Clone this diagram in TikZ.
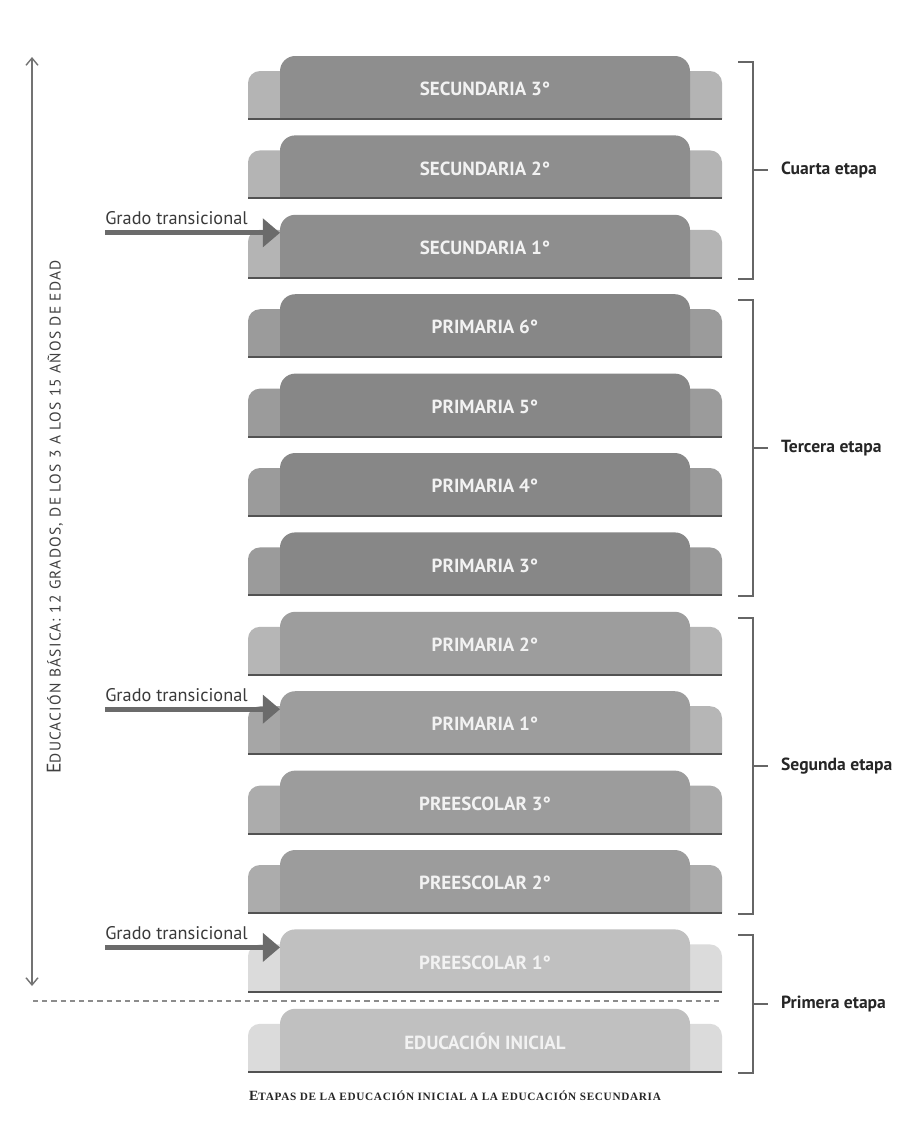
\documentclass[tikz,border=0pt]{standalone}
\usepackage{fontspec}
\setmainfont{PT Sans}
\newfontfamily\capfont{Liberation Serif}
\usetikzlibrary{arrows.meta}

\definecolor{secmain}{HTML}{8E8E8E}
\definecolor{sectab}{HTML}{B4B4B4}
\definecolor{primain}{HTML}{878787}
\definecolor{pritab}{HTML}{9B9B9B}
\definecolor{segmain}{HTML}{9D9D9D}
\definecolor{segtab}{HTML}{B6B6B6}
\definecolor{segdark}{HTML}{A6A6A6}
\definecolor{premain}{HTML}{9C9C9C}
\definecolor{pretab}{HTML}{ACACAC}
\definecolor{inimain}{HTML}{C0C0C0}
\definecolor{initab}{HTML}{DBDBDB}
\definecolor{inktxt}{HTML}{3A3A3A}

\tikzset{
  gradelbl/.style={text=white!95!black, font=\bfseries\fontsize{13.5}{15}\selectfont},
  baseln/.style={draw=black!68, line width=0.05cm},
  transarrow/.style={draw=black!58, line width=0.13cm, -{Triangle[length=0.43cm,width=0.7cm]}},
  translbl/.style={text=inktxt, font=\fontsize{13}{15}\selectfont, anchor=base west, inner sep=0pt},
  bracketln/.style={draw=black!60, line width=0.05cm},
  etapalbl/.style={text=black!85, font=\bfseries\fontsize{12.5}{15}\selectfont, anchor=west, inner xsep=0.32cm, inner ysep=0pt},
  edarrow/.style={draw=black!55, line width=0.035cm, {Straight Barb[length=0.18cm,width=0.3cm]}-{Straight Barb[length=0.18cm,width=0.3cm]}},
  edlbl/.style={text=black!75, font=\fontsize{11}{13}\selectfont\addfontfeature{LetterSpace=8}, inner sep=0pt},
  dashln/.style={draw=black!45, line width=0.035cm, dash pattern=on 0.13cm off 0.1cm},
  captionlbl/.style={text=black!85, font=\capfont\bfseries\fontsize{8}{10}\selectfont\addfontfeature{LetterSpace=6}, inner sep=0pt},
}

\begin{document}
\begin{tikzpicture}[x=0.025cm,y=-0.025cm]
    \useasboundingbox[fill=white] (0,0) rectangle (900,1125);

    % grades, from the top down
    \foreach \nm/\lbl/\i/\mc/\lt/\rt in {
        sec3/SECUNDARIA 3°/0/secmain/sectab/sectab,
        sec2/SECUNDARIA 2°/1/secmain/sectab/sectab,
        sec1/SECUNDARIA 1°/2/secmain/sectab/sectab,
        pri6/PRIMARIA 6°/3/primain/pritab/pritab,
        pri5/PRIMARIA 5°/4/primain/pritab/pritab,
        pri4/PRIMARIA 4°/5/primain/pritab/pritab,
        pri3/PRIMARIA 3°/6/primain/pritab/pritab,
        pri2/PRIMARIA 2°/7/segmain/segtab/segtab,
        pri1/PRIMARIA 1°/8/segmain/segdark/segtab,
        pre3/PREESCOLAR 3°/9/premain/pretab/pretab,
        pre2/PREESCOLAR 2°/10/premain/pretab/pretab,
        pre1/PREESCOLAR 1°/11/inimain/initab/initab,
        ini/EDUCACIÓN INICIAL/12/inimain/initab/initab}{
        \pgfmathsetmacro{\b}{119+79.4*\i}
        \fill[\lt, rounded corners=0.3cm] (248,\b) -- (248,\b-48) -- (300,\b-48) -- (300,\b);
        \fill[\rt, rounded corners=0.3cm] (670,\b) -- (670,\b-48) -- (722,\b-48) -- (722,\b);
        \fill[\mc, rounded corners=0.38cm] (280,\b) -- (280,\b-63) -- (690,\b-63) -- (690,\b);
        \draw[baseln] (248,\b) -- (722,\b);
        \node[gradelbl] (\nm) at (485,\b-30) {\lbl};
        \coordinate (\nm-w) at (280,\b-45);
    }

    % grado transicional
    \foreach \tg/\dst/\i in {gtsec/sec1/2, gtpri/pri1/8, gtpre/pre1/11}{
        \pgfmathsetmacro{\b}{119+79.4*\i}
        \node[translbl] (\tg) at (105,\b-53) {Grado transicional};
        \coordinate (\tg-s) at (105,\b-45);
        \draw[transarrow] (\tg-s) -- (\dst-w);
    }

    % etapas
    \foreach \nm/\lbl/\ia/\ib in {cuarta/Cuarta etapa/0/2, tercera/Tercera etapa/3/6,
        segunda/Segunda etapa/7/10, primera/Primera etapa/11/12}{
        \pgfmathsetmacro{\ya}{119+79.4*\ia-57}
        \pgfmathsetmacro{\yb}{119+79.4*\ib+1}
        \pgfmathsetmacro{\ym}{(\ya+\yb)/2}
        \draw[bracketln] (738,\ya) -- (753,\ya) -- (753,\yb) -- (738,\yb);
        \coordinate (\nm-m) at (753,\ym);
        \node[etapalbl] (\nm) at (768,\ym) {\lbl};
        \draw[bracketln] (\nm-m) -- (\nm.west);
    }

    % educacion basica
    \coordinate (edtop) at (32,57);
    \coordinate (edbot) at (32,986);
    \draw[edarrow] (edtop) -- (edbot);
    \node[edlbl, rotate=90] (edtxt) at (55,517)
        {{\fontsize{14}{16}\selectfont E}DUCACIÓN BÁSICA: 12 GRADOS, DE LOS 3 A LOS 15 AÑOS DE EDAD};

    \coordinate (dashl) at (33,1001);
    \coordinate (dashr) at (722,1001);
    \draw[dashln] (dashl) -- (dashr);

    \node[captionlbl] (caption) at (455,1096)
        {{\fontsize{10}{12}\selectfont E}TAPAS DE LA EDUCACIÓN INICIAL A LA EDUCACIÓN SECUNDARIA};
\end{tikzpicture}
\end{document}
